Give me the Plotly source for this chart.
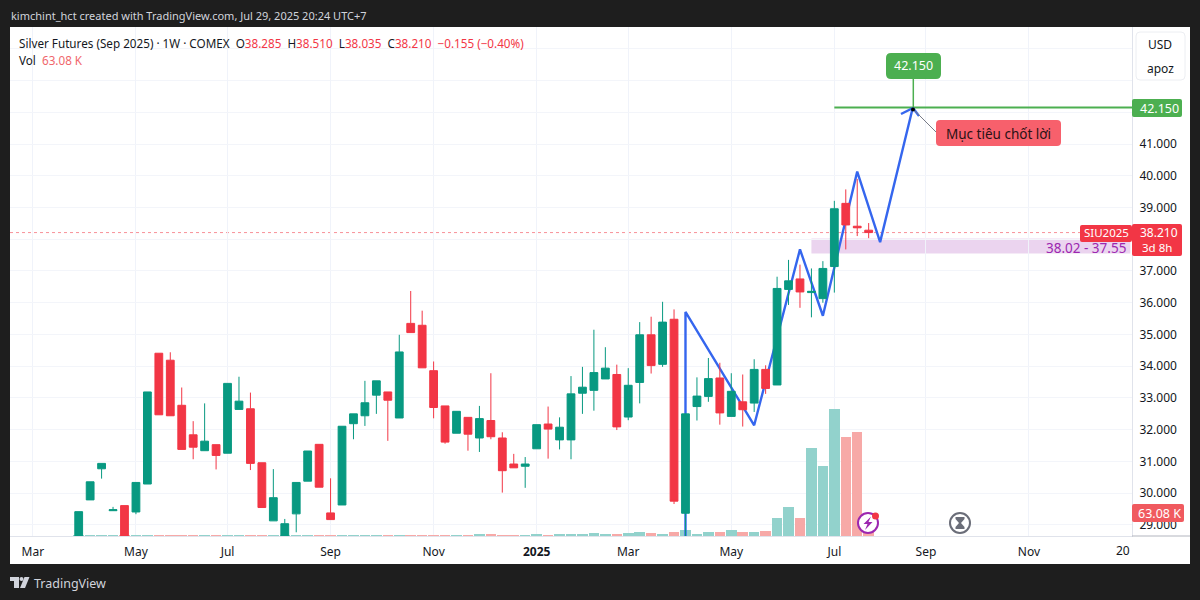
import pandas as pd
import plotly.graph_objects as go

# weekly candles, Silver Futures Sep 2025
weeks = pd.date_range("2024-04-01", periods=70, freq="7D")

opens = [28.3, 29.79, 30.77, 29.45, 29.61, 29.41, 30.29, 34.41, 34.19, 32.77,
         31.84, 31.34, 31.53, 31.26, 32.64, 32.66, 30.96, 29.13, 28.3, 29.35,
         30.38, 31.54, 29.38, 29.63, 32.19, 32.44, 33.09, 33.19, 32.37, 35.35,
         35.29, 33.86, 32.75, 31.89, 32.39, 31.74, 32.29, 31.74, 30.92, 30.85,
         31.40, 32.18, 31.68, 31.68, 33.15, 33.24, 33.60, 33.74, 32.40, 33.49,
         34.99, 34.06, 35.48, 29.37, 32.73, 33.05, 33.63, 32.42, 32.88, 32.84,
         33.90, 33.41, 36.42, 36.75, 36.32, 36.13, 37.14, 39.13, 38.41, 38.285]
highs = [29.42, 30.36, 30.94, 29.57, 29.61, 30.34, 33.19, 34.41, 34.44, 33.33,
         32.27, 32.83, 31.53, 33.46, 33.67, 33.17, 30.96, 30.76, 29.19, 30.34,
         31.33, 31.54, 30.47, 32.11, 32.50, 33.54, 33.54, 33.19, 34.99, 36.37,
         35.75, 34.15, 32.75, 32.58, 32.39, 32.75, 33.78, 31.92, 31.24, 31.14,
         32.16, 32.73, 32.39, 33.69, 33.98, 35.15, 34.60, 34.05, 33.94, 35.39,
         35.56, 36.03, 35.79, 32.50, 33.65, 34.26, 34.11, 33.78, 33.74, 34.22,
         34.03, 36.82, 37.35, 37.2, 37.08, 37.31, 39.21, 39.57, 39.9, 38.51]
lows = [28.3, 29.79, 30.46, 29.45, 28.3, 29.34, 30.29, 32.47, 32.44, 31.38,
        31.07, 31.34, 30.75, 31.26, 32.64, 30.73, 29.55, 29.13, 28.3, 28.77,
        30.38, 30.19, 29.17, 29.63, 31.70, 32.12, 32.50, 31.65, 32.37, 35.06,
        33.95, 32.36, 31.56, 31.89, 31.34, 31.30, 31.70, 30.02, 30.80, 30.17,
        31.40, 31.09, 31.38, 31.07, 32.50, 32.60, 33.60, 31.99, 32.30, 32.83,
        33.77, 33.98, 29.66, 28.3, 32.29, 32.88, 32.16, 32.42, 32.10, 32.56,
        33.13, 33.41, 35.93, 35.84, 35.54, 36.0, 36.32, 37.68, 38.10, 38.035]
closes = [29.42, 30.36, 30.94, 29.48, 28.3, 30.34, 33.19, 32.47, 32.44, 31.38,
          31.45, 31.64, 31.19, 33.46, 32.90, 30.94, 29.55, 29.86, 29.04, 30.34,
          31.33, 30.19, 29.17, 32.11, 32.50, 32.85, 33.54, 32.93, 34.45, 35.06,
          33.95, 32.70, 31.61, 32.58, 31.86, 32.35, 31.78, 30.71, 30.80, 30.92,
          32.16, 32.02, 32.08, 33.13, 33.34, 33.80, 33.94, 32.09, 33.40, 34.99,
          34.02, 35.39, 29.75, 32.50, 33.06, 33.61, 32.53, 33.21, 32.63, 33.90,
          33.30, 36.45, 36.69, 36.34, 36.36, 37.08, 38.96, 38.45, 38.36, 38.21]
volumes_k = [0.6, 0.6, 0.5, 0.5, 0.7, 0.7, 0.8, 0.9, 0.8, 0.8, 0.7, 0.8, 0.7, 0.9,
             0.8, 0.9, 0.9, 0.8, 0.8, 0.9, 0.9, 1, 1, 1, 1, 1, 1, 1, 1, 1, 1, 1,
             1.5, 1.5, 1.5, 4, 4, 2, 1.5, 2.5, 4, 2, 3.5, 3.5, 4.5, 8, 4.5, 4.5,
             7, 10, 8, 6, 12, 15.5, 6, 12, 10, 15.5, 11, 11, 14, 50, 79, 48,
             240, 191, 347, 271, 286, 63.08]

# hand drawn path on the chart
path_dates = ["2025-04-07", "2025-04-07", "2025-05-19", "2025-06-16", "2025-06-30",
              "2025-07-21", "2025-08-04", "2025-08-24"]
path_prices = [28.0, 35.71, 32.14, 37.68, 35.59, 40.13, 37.91, 42.15]

target_price = 42.15
last_price = 38.21
zone_high = 38.02
zone_low = 37.55

tick_dates = ["2024-03-04", "2024-05-06", "2024-07-01", "2024-09-02", "2024-11-04",
              "2025-01-06", "2025-03-03", "2025-05-05", "2025-07-07", "2025-09-01",
              "2025-11-03"]
tick_names = ["Mar", "May", "Jul", "Sep", "Nov", "<b>2025</b>", "Mar", "May", "Jul", "Sep", "Nov"]
price_ticks = [29, 30, 31, 32, 33, 34, 35, 36, 37, 38, 39, 40, 41, 42]
# 38 and 42 sit behind the price tags
price_names = ["29.000", "30.000", "31.000", "32.000", "33.000", "34.000", "35.000", "36.000",
               "37.000", "", "39.000", "40.000", "41.000", ""]

GREEN = "#089981"
RED = "#f23645"
BLUE = "#3566ee"
FONT = "Noto Sans"

# plot box in pixels of the 1200x600 page
L, R, T, B = 10, 1132, 27, 536


def px(x):
    return (x - L) / (R - L)


def py(y):
    return (B - y) / (B - T)


def rrect(x0, y0, x1, y1, r=4):
    xs = [px(x0), px(x0 + r), px(x1 - r), px(x1)]
    ys = [py(y0), py(y0 + r), py(y1 - r), py(y1)]
    return (f"M {xs[1]} {ys[0]} L {xs[2]} {ys[0]} Q {xs[3]} {ys[0]} {xs[3]} {ys[1]} "
            f"L {xs[3]} {ys[2]} Q {xs[3]} {ys[3]} {xs[2]} {ys[3]} "
            f"L {xs[1]} {ys[3]} Q {xs[0]} {ys[3]} {xs[0]} {ys[2]} "
            f"L {xs[0]} {ys[1]} Q {xs[0]} {ys[0]} {xs[1]} {ys[0]} Z")


def poly(points):
    return "M " + " L ".join(f"{px(a)} {py(b)}" for a, b in points) + " Z"


def page_shape(kind, **kw):
    return dict(type=kind, xref="paper", yref="paper", **kw)


def box(x0, y0, x1, y1, color, r=2, line=None, layer="above"):
    return page_shape("path", path=rrect(x0, y0, x1, y1, r), fillcolor=color,
                      line=line or dict(width=0), layer=layer)


def circle(x, y, r, fill, line):
    return page_shape("circle", x0=px(x - r), x1=px(x + r), y0=py(y + r), y1=py(y - r),
                      fillcolor=fill, line=line, layer="above")


def stroke(x0, y0, x1, y1, color, width):
    return page_shape("line", x0=px(x0), y0=py(y0), x1=px(x1), y1=py(y1),
                      line=dict(color=color, width=width), layer="above")


def text(x, y, s, size=12, color="#131722", anchor="left"):
    return dict(xref="paper", yref="paper", x=px(x), y=py(y), text=s, showarrow=False,
                xanchor=anchor, yanchor="middle", borderpad=0,
                font=dict(family=FONT, size=size, color=color))


fig = go.Figure()

vol_colors = ["#92d2cc" if c >= o else "#f7a9a7" for o, c in zip(opens, closes)]
fig.add_trace(go.Bar(x=weeks, y=volumes_k, marker_color=vol_colors, marker_line_width=0,
                     width=7 * 86400000 * 0.92, yaxis="y"))
fig.add_trace(go.Scatter(x=path_dates, y=path_prices, mode="lines", yaxis="y2",
                         line=dict(color=BLUE, width=2.4)))
fig.add_trace(go.Candlestick(x=weeks, open=opens, high=highs, low=lows, close=closes, yaxis="y3",
                             increasing=dict(line=dict(color=GREEN, width=1), fillcolor=GREEN),
                             decreasing=dict(line=dict(color=RED, width=1), fillcolor=RED),
                             whiskerwidth=0))

price_range = [28.653, 44.685]
shapes = [
    box(10, 27, 1190, 564, "#ffffff", r=0, layer="below"),
    # zone and price lines
    dict(type="rect", xref="x", yref="y3", x0="2025-06-23", x1="2026-01-04", y0=zone_low, y1=zone_high,
         fillcolor="rgba(156,39,176,0.2)", line=dict(width=0), layer="below"),
    dict(type="line", xref="x", yref="y3", x0="2024-02-19", x1="2025-12-20", y0=last_price, y1=last_price,
         line=dict(color="rgba(242,54,69,0.55)", width=1, dash="dot"), layer="below"),
    dict(type="line", xref="x", yref="y3", x0="2025-07-07", x1="2026-01-05", y0=target_price, y1=target_price,
         line=dict(color="#4caf50", width=2), layer="above"),
    stroke(913.3, 79, 913.3, 108, "#4caf50", 1.5),
    box(886, 53, 941, 79, "#4caf50", r=5),
    # arrow head and callout
    stroke(901, 114, 913, 108, BLUE, 2.4),
    stroke(913, 108, 919, 116, BLUE, 2.4),
    stroke(914, 110, 937, 133, "#787b86", 1),
    circle(913, 109.5, 2, "#000000", dict(width=0)),
    box(936, 120, 1061, 146, "#f7606c", r=4),
    # price axis box and tags
    box(1136, 32, 1185, 80, "#ffffff", r=4, line=dict(color="#eceef2", width=1)),
    box(1132, 99, 1182, 117, "#4caf50"),
    box(1080, 225, 1132, 242, RED),
    box(1132, 224, 1182, 256, RED),
    box(1132, 504, 1184, 522, "#f05a5f"),
    stroke(1132, 536, 1190, 536, "#b2b5be", 1),
    # the two event icons
    circle(868, 523, 10, "#ffffff", dict(color="#9c27b0", width=2)),
    circle(875.5, 516, 3.5, RED, dict(width=0)),
    page_shape("path", path=poly([(871, 516.5), (863.5, 524), (867.5, 524), (865, 530),
                                  (872.5, 522), (868.5, 522)]),
               fillcolor="#9c27b0", line=dict(width=0), layer="above"),
    circle(960, 523, 10, "#ffffff", dict(color="#6a6d78", width=2)),
    page_shape("path", path=poly([(955.5, 517), (964.5, 517), (964.5, 519), (961, 523), (964.5, 527),
                                  (964.5, 529), (955.5, 529), (955.5, 527), (959, 523), (955.5, 519)]),
               fillcolor="#6a6d78", line=dict(width=0), layer="above"),
    # TradingView logo
    page_shape("path", path=poly([(10, 577), (19, 577), (19, 588), (14, 588), (14, 581), (10, 581)]),
               fillcolor="#d1d4dc", line=dict(width=0), layer="above"),
    circle(21.5, 579, 2, "#d1d4dc", dict(width=0)),
    page_shape("path", path=poly([(24.5, 577), (29.5, 577), (25, 588), (20, 588)]),
               fillcolor="#d1d4dc", line=dict(width=0), layer="above"),
]

red_span = '<span style="color:#f23645">%s</span>'
legend_line = ("Silver Futures (Sep 2025) · 1W · COMEX  O" + red_span % "38.285" + "  H" + red_span % "38.510"
               + "  L" + red_span % "38.035" + "  C" + red_span % "38.210" + "  " + red_span % "−0.155 (−0.40%)")

annotations = [
    text(10, 15, "kimchint_hct created with TradingView.com, Jul 29, 2025 20:24 UTC+7", 11, "#d1d4dc"),
    text(18, 43, legend_line, 11.7),
    text(18, 60, "Vol  " + '<span style="color:#f0666b">63.08 K</span>', 11.7),
    text(913.5, 66, "42.150", 12.5, "#ffffff", "center"),
    text(998.5, 133.5, "Mục tiêu chốt lời", 13.5, "#2a1215", "center"),
    text(1160, 44, "USD", 12, anchor="center"),
    text(1160, 68, "apoz", 12, anchor="center"),
    text(1159, 108, "42.150", 12.5, "#ffffff", "center"),
    text(1106, 232.5, "SIU2025", 11.5, "#ffffff", "center"),
    text(1159, 232.5, "38.210", 12, "#ffffff", "center"),
    text(1157, 247.5, "3d 8h", 11.5, "#ffffff", "center"),
    text(1127, 247.5, "38.02 - 37.55", 13.5, "#9c27b0", "right"),
    text(1159, 513, "63.08 K", 12.5, "#ffffff", "center"),
    text(1131, 550, "20", 12, anchor="right"),
    text(33, 583, "TradingView", 12.5, "#d1d4dc"),
]

fig.update_layout(
    width=1200, height=600,
    margin=dict(l=L, r=1200 - R, t=T, b=600 - B, pad=0),
    paper_bgcolor="#1e1e1e", plot_bgcolor="#ffffff",
    showlegend=False, barmode="overlay", bargap=0,
    boxgap=0.32, boxgroupgap=0,
    font=dict(family=FONT, size=12, color="#131722"),
    xaxis=dict(type="date", range=["2024-02-19", "2026-01-05"], tickmode="array",
               tickvals=tick_dates, ticktext=tick_names, ticks="", gridcolor="#f0f3fa", gridwidth=1,
               showline=True, linecolor="#e0e3eb", rangeslider=dict(visible=False), zeroline=False,
               ticklabelstandoff=5),
    yaxis=dict(range=[0, 1395], visible=False, showgrid=False, zeroline=False),
    yaxis2=dict(range=price_range, overlaying="y", visible=False, showgrid=False, zeroline=False),
    yaxis3=dict(range=price_range, overlaying="y", side="right", anchor="x", tickmode="array",
                tickvals=price_ticks, ticktext=price_names, ticks="", gridcolor="#f3f5fa", zeroline=False,
                showline=True, linecolor="#e0e3eb", ticklabelstandoff=4,
                minor=dict(tickmode="array", tickvals=[43, 44], showgrid=True, gridcolor="#f3f5fa")),
    shapes=shapes,
    annotations=annotations,
)

# the page's default body margin would push the picture 8px down and right
fig.write_html("out.html", config=dict(displayModeBar=False),
               post_script="document.body.style.margin='0';")
